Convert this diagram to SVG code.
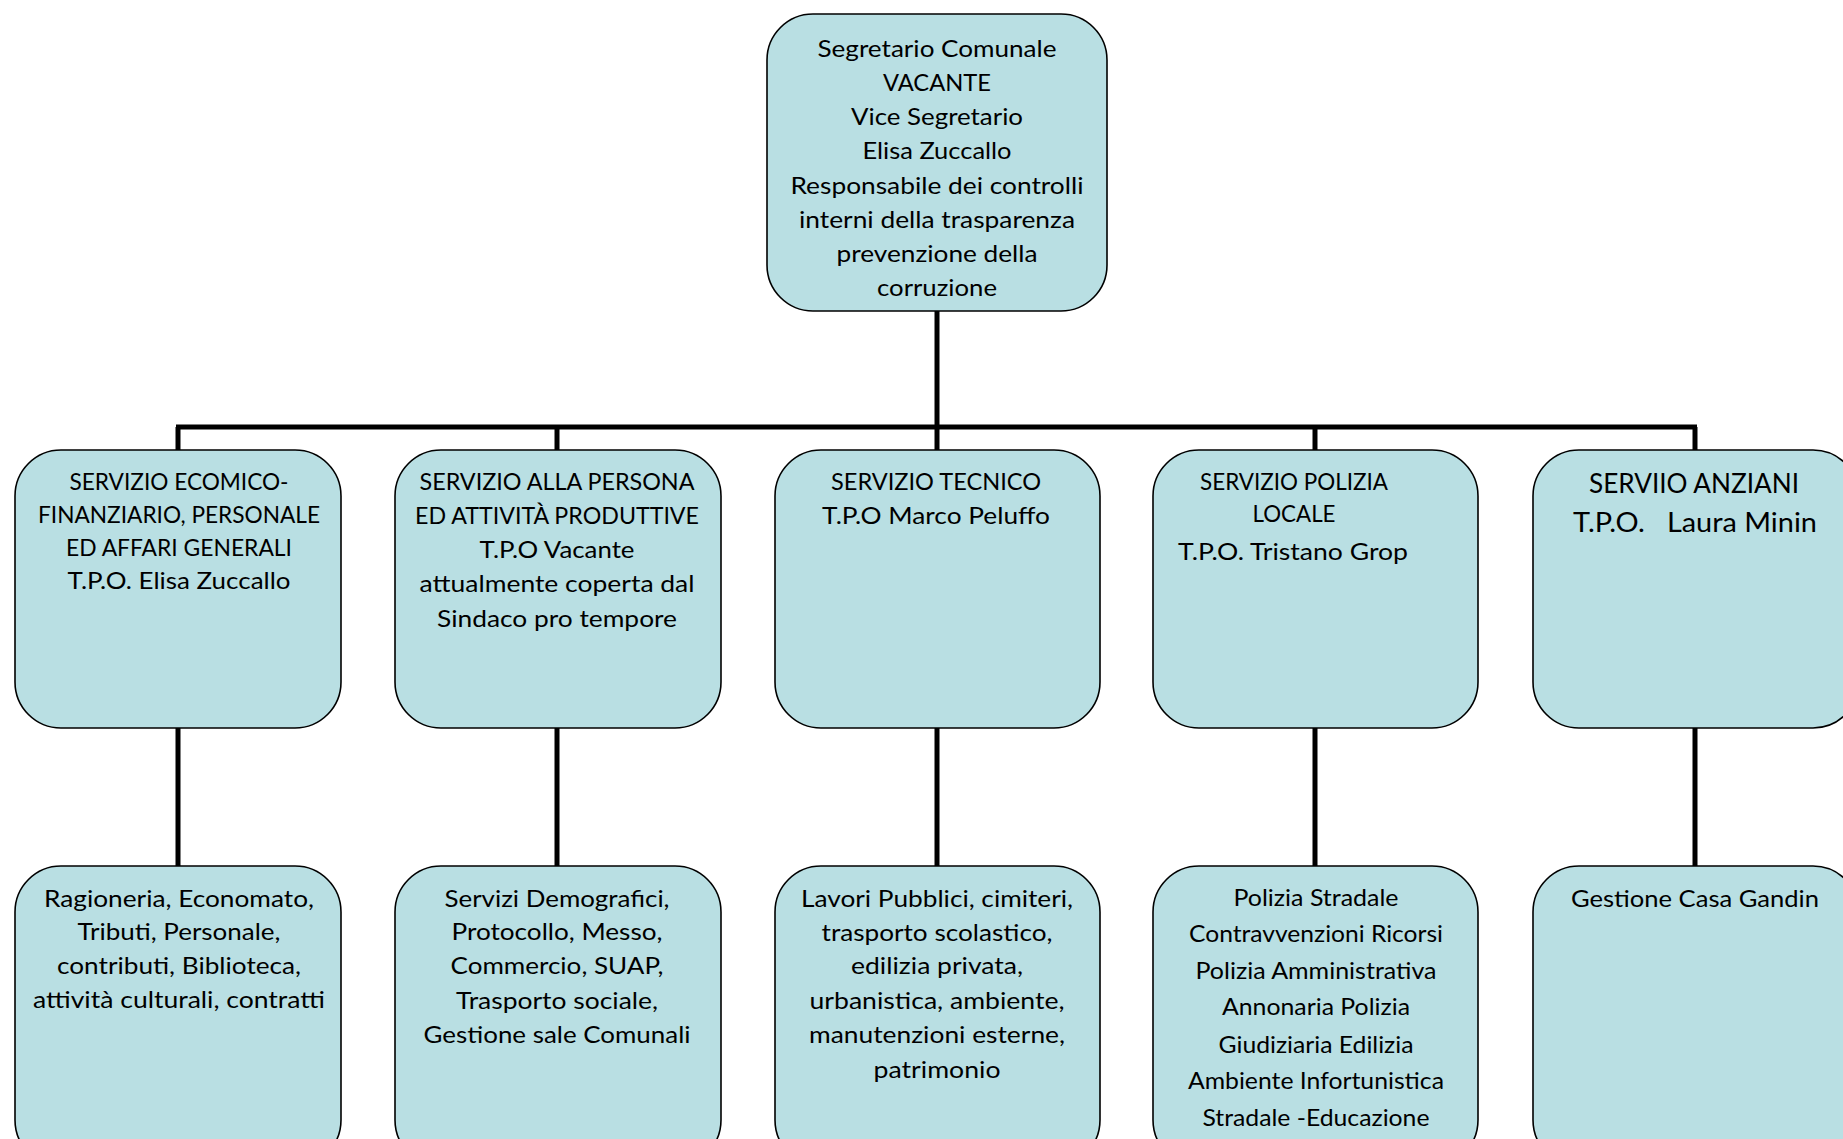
<svg xmlns="http://www.w3.org/2000/svg" width="1843" height="1139" viewBox="0 0 1843 1139">
<style>
.box{fill:#b9dfe3;stroke:#000;stroke-width:1.6}
.t{font-family:Lato,"Open Sans",sans-serif;font-size:24px;fill:#000;text-anchor:middle}
.big{font-size:27px}
.con{stroke:#000;stroke-width:5;fill:none}
</style>
<rect width="1843" height="1139" fill="#fff"/>
<g id="connectors">
<line class="con" x1="937" y1="311" x2="937" y2="427"/>
<line class="con" x1="176" y1="427" x2="1697" y2="427"/>
<line class="con" x1="178" y1="427" x2="178" y2="450"/>
<line class="con" x1="557" y1="427" x2="557" y2="450"/>
<line class="con" x1="937" y1="427" x2="937" y2="450"/>
<line class="con" x1="1315" y1="427" x2="1315" y2="450"/>
<line class="con" x1="1695" y1="427" x2="1695" y2="450"/>
<line class="con" x1="178" y1="728" x2="178" y2="866"/>
<line class="con" x1="557" y1="728" x2="557" y2="866"/>
<line class="con" x1="937" y1="728" x2="937" y2="866"/>
<line class="con" x1="1315" y1="728" x2="1315" y2="866"/>
<line class="con" x1="1695" y1="728" x2="1695" y2="866"/>
</g>
<g id="segretario">
<rect class="box" x="767" y="14" width="340" height="297" rx="46"/>
<text class="t" x="937" y="57" textLength="239" lengthAdjust="spacingAndGlyphs">Segretario Comunale</text>
<text class="t" x="937" y="91" textLength="108" lengthAdjust="spacingAndGlyphs">VACANTE</text>
<text class="t" x="937" y="125" textLength="172" lengthAdjust="spacingAndGlyphs">Vice Segretario</text>
<text class="t" x="937" y="159" textLength="149" lengthAdjust="spacingAndGlyphs">Elisa Zuccallo</text>
<text class="t" x="937" y="194" textLength="293" lengthAdjust="spacingAndGlyphs">Responsabile dei controlli</text>
<text class="t" x="937" y="228" textLength="276" lengthAdjust="spacingAndGlyphs">interni della trasparenza</text>
<text class="t" x="937" y="262" textLength="201" lengthAdjust="spacingAndGlyphs">prevenzione della</text>
<text class="t" x="937" y="296" textLength="120" lengthAdjust="spacingAndGlyphs">corruzione</text>
</g>
<g id="servizio-finanziario">
<rect class="box" x="15" y="450" width="326" height="278" rx="46"/>
<text class="t" x="179" y="490" textLength="219" lengthAdjust="spacingAndGlyphs">SERVIZIO ECOMICO-</text>
<text class="t" x="179" y="523" textLength="282" lengthAdjust="spacingAndGlyphs">FINANZIARIO, PERSONALE</text>
<text class="t" x="179" y="556" textLength="226" lengthAdjust="spacingAndGlyphs">ED AFFARI GENERALI</text>
<text class="t" x="179" y="589" textLength="223" lengthAdjust="spacingAndGlyphs">T.P.O. Elisa Zuccallo</text>
</g>
<g id="servizio-persona">
<rect class="box" x="395" y="450" width="326" height="278" rx="46"/>
<text class="t" x="557" y="490" textLength="275" lengthAdjust="spacingAndGlyphs">SERVIZIO ALLA PERSONA</text>
<text class="t" x="557" y="524" textLength="284" lengthAdjust="spacingAndGlyphs">ED ATTIVITÀ PRODUTTIVE</text>
<text class="t" x="557" y="558" textLength="155" lengthAdjust="spacingAndGlyphs">T.P.O Vacante</text>
<text class="t" x="557" y="592" textLength="275" lengthAdjust="spacingAndGlyphs">attualmente coperta dal</text>
<text class="t" x="557" y="627" textLength="240" lengthAdjust="spacingAndGlyphs">Sindaco pro tempore</text>
</g>
<g id="servizio-tecnico">
<rect class="box" x="775" y="450" width="325" height="278" rx="46"/>
<text class="t" x="936" y="490" textLength="210" lengthAdjust="spacingAndGlyphs">SERVIZIO TECNICO</text>
<text class="t" x="936" y="524" textLength="228" lengthAdjust="spacingAndGlyphs">T.P.O Marco Peluffo</text>
</g>
<g id="servizio-polizia">
<rect class="box" x="1153" y="450" width="325" height="278" rx="46"/>
<text class="t" x="1294" y="490" textLength="188" lengthAdjust="spacingAndGlyphs">SERVIZIO POLIZIA</text>
<text class="t" x="1294" y="522" textLength="83" lengthAdjust="spacingAndGlyphs">LOCALE</text>
<text class="t" x="1293" y="560" textLength="230" lengthAdjust="spacingAndGlyphs">T.P.O. Tristano Grop</text>
</g>
<g id="servizio-anziani">
<rect class="box" x="1533" y="450" width="326" height="278" rx="46"/>
<text class="t big" x="1694" y="493" textLength="210" lengthAdjust="spacingAndGlyphs">SERVIIO ANZIANI</text>
<text class="t big" x="1695" y="532" textLength="244" lengthAdjust="spacingAndGlyphs" xml:space="preserve">T.P.O.   Laura Minin</text>
</g>
<g id="ragioneria">
<rect class="box" x="15" y="866" width="326" height="300" rx="46"/>
<text class="t" x="179" y="907" textLength="270" lengthAdjust="spacingAndGlyphs">Ragioneria, Economato,</text>
<text class="t" x="179" y="940" textLength="203" lengthAdjust="spacingAndGlyphs">Tributi, Personale,</text>
<text class="t" x="179" y="974" textLength="244" lengthAdjust="spacingAndGlyphs">contributi, Biblioteca,</text>
<text class="t" x="179" y="1008" textLength="292" lengthAdjust="spacingAndGlyphs">attività culturali, contratti</text>
</g>
<g id="demografici">
<rect class="box" x="395" y="866" width="326" height="300" rx="46"/>
<text class="t" x="557" y="907" textLength="225" lengthAdjust="spacingAndGlyphs">Servizi Demografici,</text>
<text class="t" x="557" y="940" textLength="211" lengthAdjust="spacingAndGlyphs">Protocollo, Messo,</text>
<text class="t" x="557" y="974" textLength="213" lengthAdjust="spacingAndGlyphs">Commercio, SUAP,</text>
<text class="t" x="557" y="1009" textLength="202" lengthAdjust="spacingAndGlyphs">Trasporto sociale,</text>
<text class="t" x="557" y="1043" textLength="267" lengthAdjust="spacingAndGlyphs">Gestione sale Comunali</text>
</g>
<g id="lavori-pubblici">
<rect class="box" x="775" y="866" width="325" height="300" rx="46"/>
<text class="t" x="937" y="907" textLength="272" lengthAdjust="spacingAndGlyphs">Lavori Pubblici, cimiteri,</text>
<text class="t" x="937" y="941" textLength="231" lengthAdjust="spacingAndGlyphs">trasporto scolastico,</text>
<text class="t" x="937" y="974" textLength="172" lengthAdjust="spacingAndGlyphs">edilizia privata,</text>
<text class="t" x="937" y="1009" textLength="255" lengthAdjust="spacingAndGlyphs">urbanistica, ambiente,</text>
<text class="t" x="937" y="1043" textLength="256" lengthAdjust="spacingAndGlyphs">manutenzioni esterne,</text>
<text class="t" x="937" y="1078" textLength="127" lengthAdjust="spacingAndGlyphs">patrimonio</text>
</g>
<g id="polizia-stradale">
<rect class="box" x="1153" y="866" width="325" height="300" rx="46"/>
<text class="t" x="1316" y="906" textLength="165" lengthAdjust="spacingAndGlyphs">Polizia Stradale</text>
<text class="t" x="1316" y="942" textLength="254" lengthAdjust="spacingAndGlyphs">Contravvenzioni Ricorsi</text>
<text class="t" x="1316" y="979" textLength="241" lengthAdjust="spacingAndGlyphs">Polizia Amministrativa</text>
<text class="t" x="1316" y="1015" textLength="188" lengthAdjust="spacingAndGlyphs">Annonaria Polizia</text>
<text class="t" x="1316" y="1053" textLength="195" lengthAdjust="spacingAndGlyphs">Giudiziaria Edilizia</text>
<text class="t" x="1316" y="1089" textLength="256" lengthAdjust="spacingAndGlyphs">Ambiente Infortunistica</text>
<text class="t" x="1316" y="1126" textLength="227" lengthAdjust="spacingAndGlyphs">Stradale -Educazione</text>
</g>
<g id="casa-gandin">
<rect class="box" x="1533" y="866" width="326" height="300" rx="46"/>
<text class="t" x="1695" y="907" textLength="248" lengthAdjust="spacingAndGlyphs">Gestione Casa Gandin</text>
</g>
</svg>
